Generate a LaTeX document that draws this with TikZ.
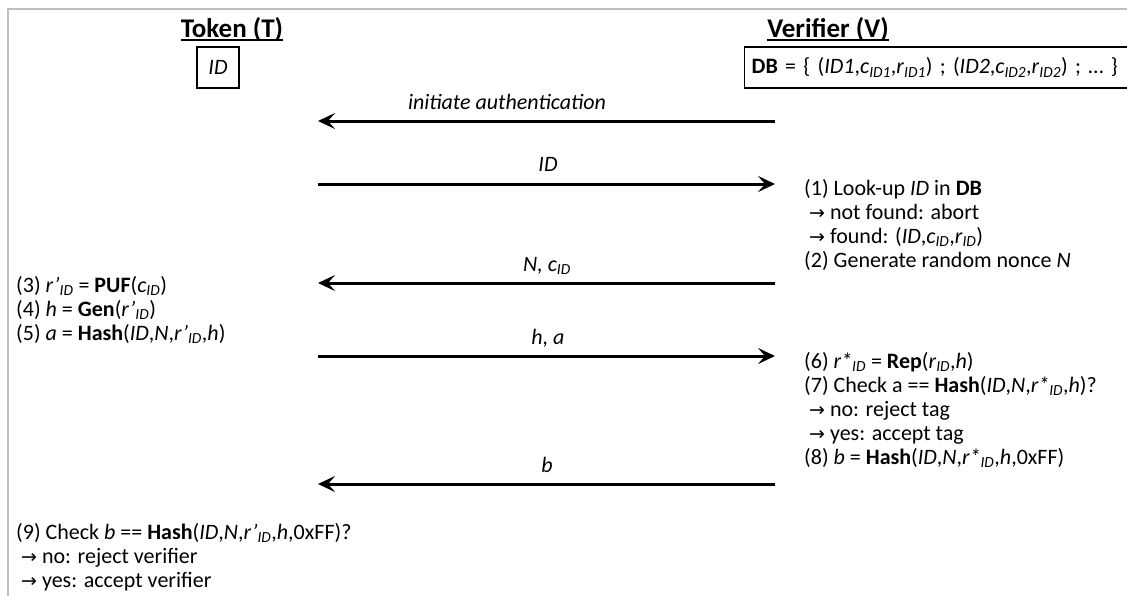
\documentclass[tikz,border=0pt]{standalone}
\usepackage{fontspec}
\setmainfont{Carlito}
\newfontfamily\arrfont{DejaVu Sans}
\usetikzlibrary{arrows.meta}
\newcommand\sbs[1]{\textsubscript{\itshape #1}}
\newcommand\rar{{\arrfont\fontsize{19}{20}\selectfont →}}
\tikzset{
  body/.style={anchor=base west, inner sep=0pt, font=\fontsize{22}{24}\selectfont},
  lbl/.style={anchor=base, inner sep=0pt, font=\fontsize{22}{24}\selectfont\itshape},
  ttl/.style={anchor=base, inner sep=0pt, font=\fontsize{27}{30}\selectfont\bfseries},
  msg/.style={line width=3pt, -{Stealth[length=17pt,width=16pt,inset=7pt]}},
  boxed/.style={draw, line width=1.3pt, inner sep=0pt, font=\fontsize{22}{24}\selectfont},
  uline/.style={line width=1.6pt}
}
\begin{document}
\begin{tikzpicture}[x=1pt,y=-1pt]
\useasboundingbox (0,0) rectangle (1127,595);
\clip (0,0) rectangle (1127,595);
% frame
\draw[black!25, line width=1.5pt] (8,600) -- (8,9) -- (1135,9);

% titles
\node[ttl] (tok) at (232,37) {Token (T)};
\draw[uline] ([yshift=-3pt]tok.base west) -- ([yshift=-3pt]tok.base east);
\node[ttl] (ver) at (828,37) {Verifier (V)};
\draw[uline] ([yshift=-3pt]ver.base west) -- ([yshift=-3pt]ver.base east);

% boxes
\node[boxed, minimum width=42pt, minimum height=41pt] (idbox) at (218,67.5) {\itshape ID};
\node[boxed, anchor=west, minimum height=41pt, minimum width=400pt, text width=386pt, inner xsep=7pt, align=left] (db) at (744,67.5)
  {\textbf{DB} = \{ (\textit{ID1},\textit{c}\sbs{ID1},\textit{r}\sbs{ID1}) ; (\textit{ID2},\textit{c}\sbs{ID2},\textit{r}\sbs{ID2}) ; … \}};

% lifeline end points
\coordinate (t1) at (318,121); \coordinate (v1) at (775,121);
\coordinate (t2) at (318,184); \coordinate (v2) at (775,184);
\coordinate (t3) at (318,283); \coordinate (v3) at (775,283);
\coordinate (t4) at (318,356); \coordinate (v4) at (775,356);
\coordinate (t5) at (318,484); \coordinate (v5) at (775,484);

% messages
\draw[msg] (v1) -- (t1);
\node[lbl] (m1) at (507,109) {initiate authentication};
\draw[msg] (t2) -- (v2);
\node[lbl] (m2) at (548,171) {ID};
\draw[msg] (v3) -- (t3);
\node[lbl] (m3) at (547,271) {N, c\sbs{ID}};
\draw[msg] (t4) -- (v4);
\node[lbl] (m4) at (548,344) {h, a};
\draw[msg] (v5) -- (t5);
\node[lbl] (m5) at (547,472) {b};

% verifier steps 1-2
\node[body] (r1) at (804,195) {(1) Look-up \textit{ID} in \textbf{DB}};
\node[body] (r2) at (804,219) {\ \rar\ not found: abort};
\node[body] (r3) at (804,243) {\ \rar\ found: (\textit{ID},\textit{c}\sbs{ID},\textit{r}\sbs{ID})};
\node[body] (r4) at (804,267) {(2) Generate random nonce \textit{N}};

% token steps 3-5
\node[body] (l1) at (16,292) {(3) \textit{r’}\sbs{ID} = \textbf{PUF}(\textit{c}\sbs{ID})};
\node[body] (l2) at (16,316) {(4) \textit{h} = \textbf{Gen}(\textit{r’}\sbs{ID})};
\node[body] (l3) at (16,340) {(5) \textit{a} = \textbf{Hash}(\textit{ID},\textit{N},\textit{r’}\sbs{ID},\textit{h})};

% verifier steps 6-8
\node[body] (r5) at (804,368) {(6) \textit{r*}\sbs{ID} = \textbf{Rep}(\textit{r}\sbs{ID},\textit{h})};
\node[body] (r6) at (804,392) {(7) Check a == \textbf{Hash}(\textit{ID},\textit{N},\textit{r*}\sbs{ID},\textit{h})?};
\node[body] (r7) at (804,416) {\ \rar\ no: reject tag};
\node[body] (r8) at (804,440) {\ \rar\ yes: accept tag};
\node[body] (r9) at (804,464) {(8) \textit{b} = \textbf{Hash}(\textit{ID},\textit{N},\textit{r*}\sbs{ID},\textit{h},0xFF)};

% token step 9
\node[body] (l4) at (16,539) {(9) Check \textit{b} == \textbf{Hash}(\textit{ID},\textit{N},\textit{r’}\sbs{ID},\textit{h},0xFF)?};
\node[body] (l5) at (16,563) {\ \rar\ no: reject verifier};
\node[body] (l6) at (16,587) {\ \rar\ yes: accept verifier};
\end{tikzpicture}
\end{document}
